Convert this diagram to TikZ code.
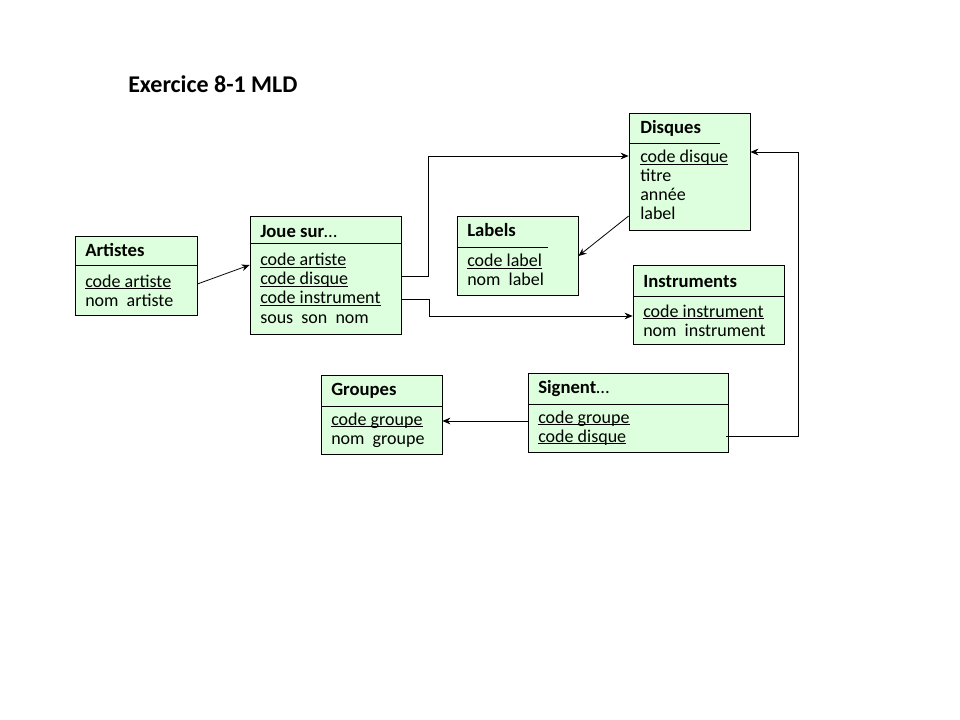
\documentclass[tikz,border=0pt]{standalone}
\usepackage{fontspec}
\setmainfont{Carlito}
\usetikzlibrary{fit,arrows.meta}
\definecolor{boxfill}{RGB}{221,255,221}
\tikzset{
  ent/.style={draw=black, fill=boxfill, line width=0.6pt, inner sep=0pt},
  hdr/.style={anchor=base west, inner sep=0pt, font=\fontsize{14}{16}\selectfont\bfseries},
  fld/.style={anchor=base west, inner sep=0pt, font=\fontsize{13.5}{15}\selectfont},
  sepline/.style={line width=0.6pt},
  conn/.style={line width=0.6pt, -{Stealth[length=6pt,width=5pt]}}
}
\newcommand{\ul}[1]{\setbox0\hbox{#1}\rlap{\rule[-1.3pt]{\wd0}{0.55pt}}\box0}
\begin{document}
\begin{tikzpicture}[x=0.75pt,y=-0.75pt]
\useasboundingbox[fill=white] (0,0) rectangle (960,720);
\node[anchor=base west, inner sep=0pt, font=\fontsize{18}{20}\selectfont\bfseries] (title) at (128,93) {Exercice 8-1 MLD};

% Artistes
\node[ent, fit={(75,236) (197,315)}] (art) {};
\draw[sepline] (75,265) -- (197,265);
\node[hdr] (arth) at (85,257) {Artistes};
\node[fld] (art1) at (85,287) {\ul{code artiste}};
\node[fld] (art2) at (85,306) {nom\ \ artiste};

% Joue sur
\node[ent, fit={(250,216) (401,334)}] (joue) {};
\draw[sepline] (250,243) -- (401,243);
\node[hdr] (joueh) at (260,238) {Joue sur\textmd{\dots}};
\node[fld] (joue1) at (260,266) {\ul{code artiste}};
\node[fld] (joue2) at (260,285) {\ul{code disque}};
\node[fld] (joue3) at (260,304) {\ul{code instrument}};
\node[fld] (joue4) at (260,323) {sous\ \ son\ \ nom};

% Disques
\node[ent, fit={(629,113) (750,230)}] (disq) {};
\draw[sepline] (629,143) -- (720,143);
\node[hdr] (disqh) at (640,134) {Disques};
\node[fld] (disq1) at (640,163) {\ul{code disque}};
\node[fld] (disq2) at (640,182) {titre};
\node[fld] (disq3) at (640,201) {année};
\node[fld] (disq4) at (640,220) {label};

% Labels
\node[ent, fit={(457,216) (578,295)}] (lab) {};
\draw[sepline] (457,247) -- (548,247);
\node[hdr] (labh) at (467,237) {Labels};
\node[fld] (lab1) at (467,267) {\ul{code label}};
\node[fld] (lab2) at (467,286) {nom\ \ label};

% Instruments
\node[ent, fit={(633,265) (784,344)}] (inst) {};
\draw[sepline] (633,296) -- (784,296);
\node[hdr] (insth) at (643,287) {Instruments};
\node[fld] (inst1) at (643,317) {\ul{code instrument}};
\node[fld] (inst2) at (643,336) {nom\ \ instrument};

% Groupes
\node[ent, fit={(321,375) (442,454)}] (grp) {};
\draw[sepline] (321,406) -- (443,406);
\node[hdr] (grph) at (331,395) {Groupes};
\node[fld] (grp1) at (331,425) {\ul{code groupe}};
\node[fld] (grp2) at (331,444) {nom\ \ groupe};

% Signent
\node[ent, fit={(528,373) (728,452)}] (sig) {};
\draw[sepline] (528,404) -- (728,404);
\node[hdr] (sigh) at (538,393) {Signent\textmd{\dots}};
\node[fld] (sig1) at (538,423) {\ul{code groupe}};
\node[fld] (sig2) at (538,442) {\ul{code disque}};

% connectors
\draw[conn] (art.east |- 0,284) -- (joue.west |- 0,265);
\draw[conn] (joue.east |- 0,276) -- (428,276) -- (428,156) -- (disq.west |- 0,156);
\draw[conn] (joue.east |- 0,299) -- (429,299) -- (429,316) -- (inst.west |- 0,316);
\draw[conn] (disq.west |- 0,216) -- (lab.east |- 0,256);
\draw[conn] (726,436) -- (798,436) -- (798,152) -- (disq.east |- 0,152);
\draw[conn] (sig.west |- 0,421) -- (grp.east |- 0,421);
\end{tikzpicture}
\end{document}
